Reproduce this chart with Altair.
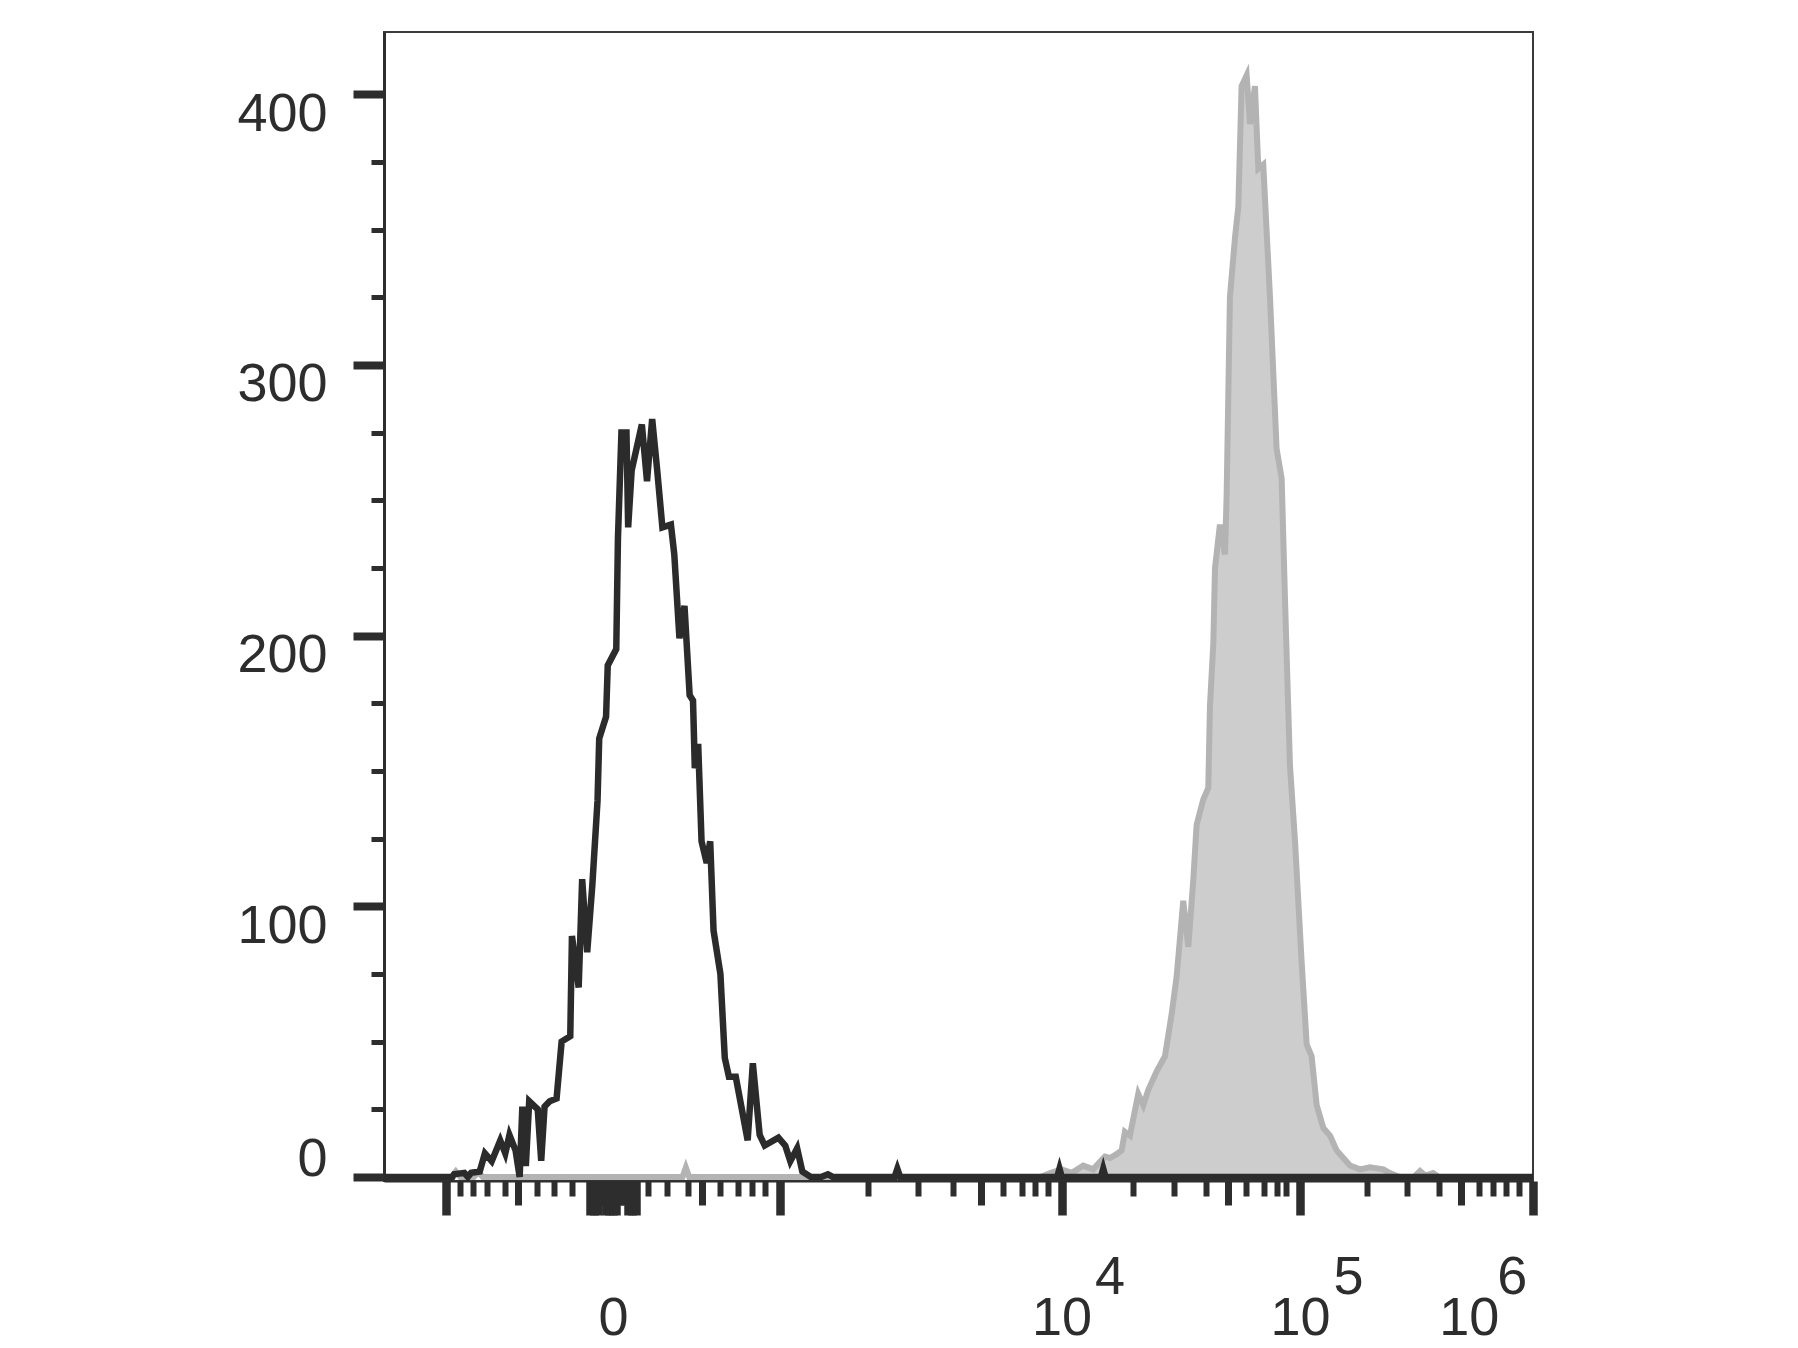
import altair as alt
import pandas as pd

# ---- data (x in display channels 0..1024, y in events) ----
black_ch = [0, 61, 62.5, 71.6, 74.7, 77.7, 85.3, 89.9, 96, 103.6, 108.1, 111.8, 117.3, 120.9,
            123.3, 126.4, 129.4, 137, 140.1, 143.1, 147.7, 153.8, 158.3, 166, 167.5, 173.5,
            176.6, 181.1, 185.7, 190.3, 191.8, 197.9, 199.4, 207, 208.5, 211.6, 216.1, 217.6,
            220.7, 229.8, 234.4, 239, 243.5, 248.1, 255.7, 258.7, 263.3, 267.8, 272.4, 275.4,
            277, 280, 283, 287.6, 290.7, 293.7, 299.8, 303.7, 307.4, 313.5, 324.1, 328.7,
            334.8, 339.3, 351.5, 357.6, 362.1, 368.2, 372.8, 380.4, 389.5, 395.6, 400, 455,
            457.5, 460, 600, 602, 604, 639, 641, 643, 1024]
black_ct = [0, 0, 1, 1.5, 0, 1.5, 2, 8.7, 5.8, 13.5, 8.7, 15.5, 9.7, 0,
            26, 4, 28, 25, 6, 26, 28, 29, 50, 52, 89, 70,
            110, 83, 108, 139, 162, 170, 189, 195, 236, 275, 275, 240,
            261, 278, 257, 280, 261, 240, 241, 230, 199, 211, 178, 176,
            151, 160, 124, 116, 124, 91, 75, 44, 37, 37, 13.5, 42,
            15.5, 11.6, 14.5, 11.6, 5.8, 10.6, 2, 0, 0, 1, 0, 0,
            3, 0, 0, 3, 0, 0, 3, 0, 0]

gray_ch = [0, 60, 64, 68, 80, 84, 88, 266, 269, 272, 585, 593.5, 603.9, 613, 623.2, 632.1,
           638.1, 642.5, 647, 652.9, 657.4, 660.3, 664.8, 672.2, 676.7, 681.1, 688.6, 696,
           701.9, 706.4, 712.3, 716.8, 721.3, 724.2, 730.2, 734.6, 736.1, 739.1, 740.6, 745,
           749.5, 751, 753.9, 758.4, 761.4, 764.3, 768.8, 771.8, 776.2, 779.2, 783.6, 789.6,
           795.5, 800, 803, 807.4, 811.9, 817.8, 822.3, 826.7, 831.2, 837.1, 843.1, 849, 855,
           860.9, 869.8, 878.7, 890.6, 896.5, 905, 918, 923.3, 928, 935, 940, 1024]
gray_ct = [0, 0, 2, 0, 0, 2, 0, 0, 3.5, 0, 0, 1.4, 2.8, 1.5, 4.2, 2.8,
           5.6, 7.5, 7, 8.4, 9.8, 16.7, 15.3, 30.7, 26.5, 32.1, 39, 44.6,
           60, 74, 102, 85, 110, 130, 139.5, 143.7, 174, 197, 225, 241,
           230, 252.5, 325, 347, 358.5, 403, 407, 389, 403, 372.5, 374, 325,
           269, 258, 213, 152, 124, 79.5, 49, 44.6, 26.5, 18.1, 15.3, 9.8, 7,
           4.2, 2.8, 3.6, 2.8, 1.4, 0, 0, 2.2, 0.5, 1.4, 0, 0]

# tick positions on the display-channel axis (long = decades, mid = halves, short = the rest)
long_ticks = [55.0, 183.6, 187.2, 190.7, 197.8, 200.9, 204.1, 207.2, 217.5, 221.0, 224.6,
              352.9, 603.8, 816.3, 1023.7]
mid_ticks = [119.2, 194.3, 210.3, 213.9, 283.1, 531.8, 751.9, 960.1]
short_ticks = [67.7, 79.6, 91.5, 107.8, 136.1, 151.8, 167.3,
               235.5, 251.9, 271.2, 299.4, 315.8, 327.7, 339.5,
               431.6, 475.6, 507.4, 551.9, 568.3, 580.2, 592.0,
               667.8, 704.1, 732.3, 768.2, 784.3, 796.1, 803.9,
               876.3, 912.0, 940.0, 976.2, 988.1, 1000.0, 1011.8]
label_pos = [204.1, 603.8, 816.3, 1023.7]
label_base = ["0", "10", "10", "10"]
label_exp = ["", "4", "5", "6"]

y_ticks = list(range(0, 401, 25))

black_df = pd.DataFrame({"ch": black_ch, "count": black_ct})
gray_df = pd.DataFrame({"ch": gray_ch, "count": gray_ct})

FONT = "Liberation Sans"
INK = "#2d2d2d"
FS = 54


def any_test(vals):
    return " || ".join(f"abs(datum.value - {v}) < 0.01" for v in vals)


def label_expr(pos, labels):
    expr = "''"
    for p, l in reversed(list(zip(pos, labels))):
        expr = f"(abs(datum.value - {p}) < 0.01 ? '{l}' : {expr})"
    return expr


xscale = alt.Scale(domain=[0, 1024], nice=False, zero=False)
yscale = alt.Scale(domain=[-1.5, 423], nice=False, zero=False)

x_axis_main = alt.Axis(
    orient="bottom",
    values=sorted(long_ticks + mid_ticks + short_ticks),
    grid=False,
    title=None,
    domainColor=INK,
    domainWidth=2,
    tickColor=INK,
    tickSize={"condition": [{"test": any_test(long_ticks), "value": 34},
                            {"test": any_test(mid_ticks), "value": 24}], "value": 15},
    tickWidth={"condition": [{"test": any_test(long_ticks), "value": 8.5},
                             {"test": any_test(mid_ticks), "value": 7}], "value": 6},
    labelExpr=label_expr(label_pos, label_base),
    labelFont=FONT,
    labelFontSize=FS,
    labelColor=INK,
    labelBaseline="top",
    labelAlign="center",
    labelPadding=76,
    labelOffset={"condition": {"test": "datum.value > 1000", "value": -64}, "value": 0},
    labelOverlap=False,
    labelFlush=False,
)

x_axis_exp = alt.Axis(
    orient="bottom",
    values=label_pos[1:],
    grid=False,
    title=None,
    domain=False,
    ticks=False,
    labelExpr=label_expr(label_pos, label_exp),
    labelFont=FONT,
    labelFontSize=FS,
    labelColor=INK,
    labelBaseline="top",
    labelAlign="center",
    labelPadding=69,
    labelOffset={"condition": {"test": "datum.value > 1000", "value": -21}, "value": 48},
    labelOverlap=False,
    labelFlush=False,
)

y_axis = alt.Axis(
    orient="left",
    values=y_ticks,
    grid=False,
    title=None,
    domainColor=INK,
    domainWidth=3,
    tickColor=INK,
    tickSize={"condition": {"test": "datum.value % 100 === 0", "value": 31}, "value": 13},
    tickWidth={"condition": {"test": "datum.value % 100 === 0", "value": 8}, "value": 5},
    labelExpr="datum.value % 100 === 0 ? datum.label : ''",
    labelFont=FONT,
    labelFontSize=FS,
    labelColor=INK,
    labelPadding=26,
    labelOffset={"condition": {"test": "datum.value === 0", "value": -17}, "value": 20},
    labelOverlap=False,
    labelFlush=False,
)

area = alt.Chart(gray_df).mark_area(color="#cdcdcd", interpolate="linear").encode(
    x=alt.X("ch:Q", scale=xscale, axis=x_axis_main),
    y=alt.Y("count:Q", scale=yscale, axis=y_axis),
)
gray_line = alt.Chart(gray_df).mark_line(color="#b3b3b3", strokeWidth=6).encode(
    x=alt.X("ch:Q", scale=xscale, axis=None),
    y=alt.Y("count:Q", scale=yscale, axis=y_axis),
)
black_line = alt.Chart(black_df).mark_line(color="#2b2b2b", strokeWidth=6.5).encode(
    x=alt.X("ch:Q", scale=xscale, axis=x_axis_exp),
    y=alt.Y("count:Q", scale=yscale, axis=y_axis),
)

chart = (
    alt.layer(area, gray_line, black_line)
    .resolve_axis(x="independent", y="shared")
    .properties(
        width=1149,
        height=1149,
        autosize=alt.AutoSizeParams(type="none"),
        padding={"left": 376, "top": 24, "right": 200, "bottom": 167},
        background="white",
    )
    .configure_view(stroke="#3a3a3a", strokeWidth=2)
)

chart.save("out.html", embed_options={"renderer": "svg", "actions": False})
